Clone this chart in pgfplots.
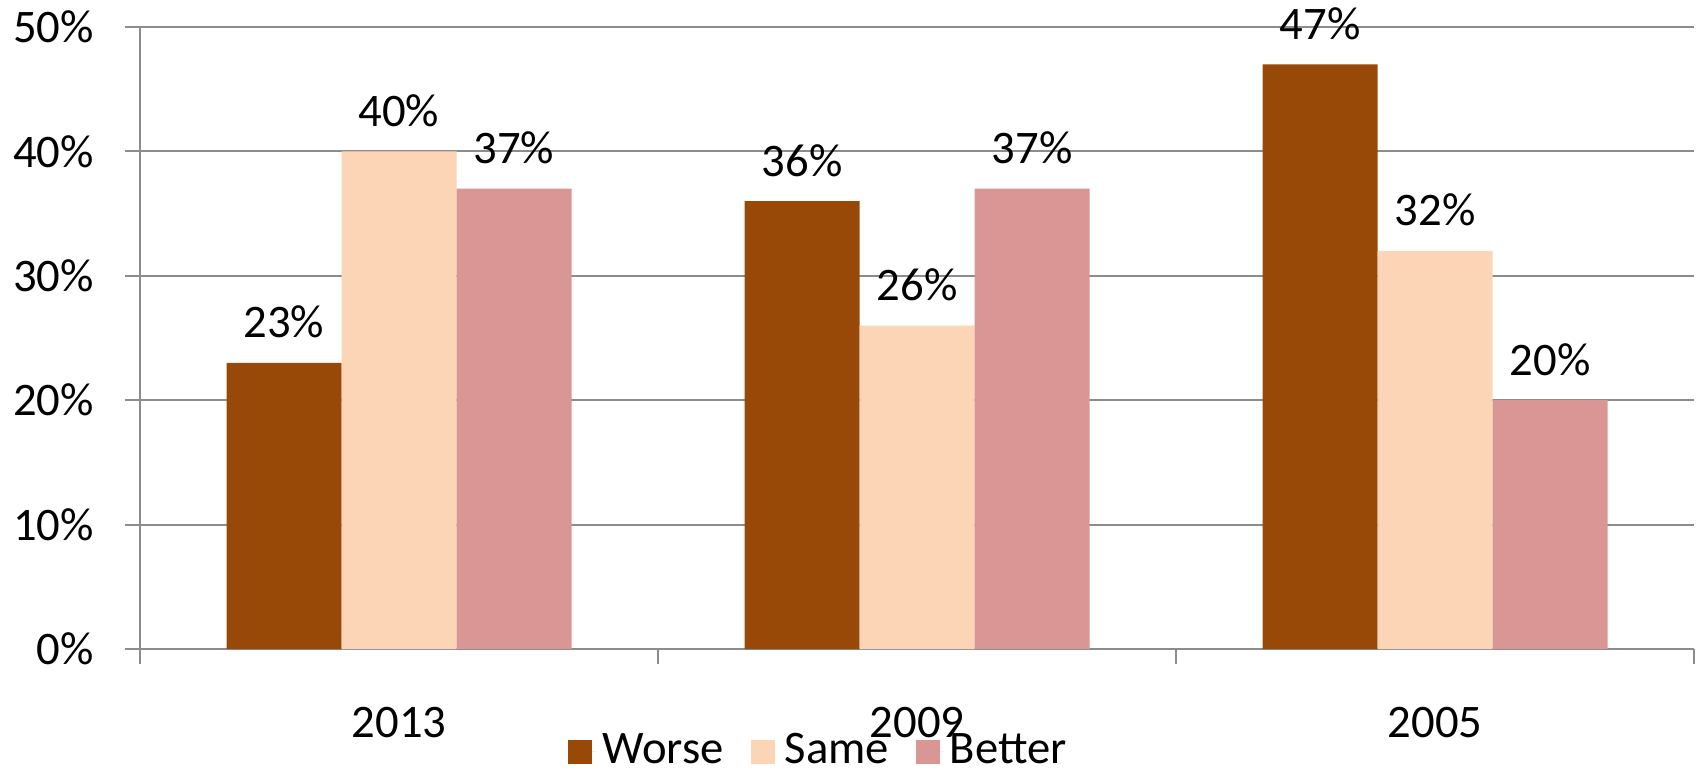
\documentclass[border=0pt]{standalone}
\usepackage{fontspec}
\setmainfont{Carlito}
\usepackage{pgfplots}
\pgfplotsset{compat=1.18}
\definecolor{worse}{HTML}{984807}
\definecolor{same}{HTML}{FBD5B5}
\definecolor{better}{HTML}{D99694}
\definecolor{axgray}{HTML}{8C8C8C}
\begin{document}
\fontsize{14}{17}\selectfont
\begin{tikzpicture}
\begin{axis}[
  name=ax,
  scale only axis,
  width=466.2pt, height=186.6pt,
  xmin=-0.5, xmax=2.5, ymin=0, ymax=50,
  axis lines*=left,
  axis line style={axgray, line width=0.6pt},
  ytick={0,10,...,50},
  yticklabel={\pgfmathprintnumber{\tick}\%},
  yticklabel style={xshift=-4.5pt},
  /pgf/number format/assume math mode=true,
  ymajorgrids, grid style={axgray, line width=0.6pt},
  xtick={-0.5,0.5,1.5,2.5}, xticklabels={,,,},
  extra x ticks={0,1,2},
  extra x tick labels={2013,2009,2005},
  extra x tick style={major tick length=0pt, tick label style={yshift=-12.6pt}},
  tick align=outside,
  major tick length=4.5pt,
  tick style={axgray, line width=0.6pt},
  ybar=0pt, bar width=0.222,
  enlargelimits=false,
  nodes near coords={\pgfmathprintnumber{\pgfplotspointmeta}\%},
  every node near coord/.append style={text=black, yshift=2.5pt},
  legend style={at={(0.438,-0.165)}, anchor=center, draw=none, fill=none,
    inner sep=0pt,
    legend columns=3, nodes={inner xsep=1.8pt, inner ysep=0pt},
    /tikz/every even column/.append style={column sep=6.3pt}},
  legend image code/.code={\fill[#1] (0pt,-3.6pt) rectangle (7.2pt,3.6pt);
    \path (0pt,0pt) -- (8.4pt,0pt);},
]
\addplot[fill=worse, draw=none, bar shift=-0.222] coordinates {(0,23) (1,36) (2,47)};
\addplot[fill=same, draw=none, bar shift=0] coordinates {(0,40) (1,26) (2,32)};
\addplot[fill=better, draw=none, bar shift=0.222] coordinates {(0,37) (1,37) (2,20)};
\legend{Worse, Same, Better}
\end{axis}
\pgfresetboundingbox
\path ([shift={(-42pt,-36.3pt)}]ax.south west) rectangle ([shift={(0.6pt,8.1pt)}]ax.north east);
\end{tikzpicture}
\end{document}
